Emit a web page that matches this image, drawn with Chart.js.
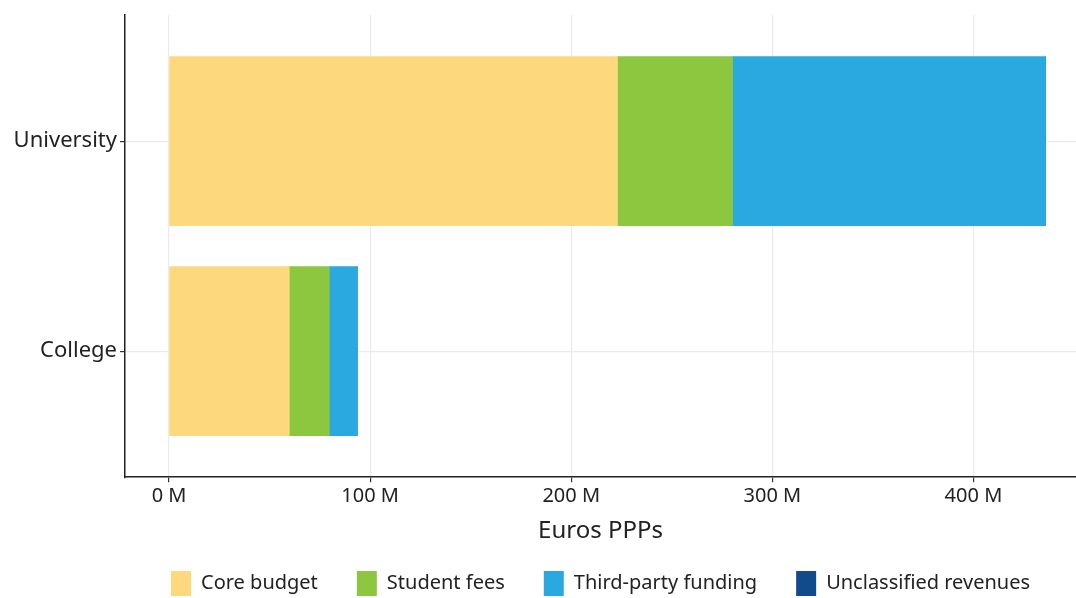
<!DOCTYPE html>
<html>
<head>
<meta charset="utf-8">
<script src="https://cdn.jsdelivr.net/npm/chart.js@4/dist/chart.umd.min.js"></script>
<style>
  html, body { margin: 0; padding: 0; background: #fff; }
  #wrap { width: 1076px; height: 598px; }
</style>
</head>
<body>
<div id="wrap"><canvas id="grafico"></canvas></div>
<script>
// categorias e séries (milhões de euros PPP)
const categorias = ['University', 'College'];
const coreBudget = [223, 59.8];
const studentFees = [57.2, 19.9];
const thirdParty = [155.6, 13.9];
const unclassified = [0, 0];
const xTicks = [0, 100, 200, 300, 400];

const series = [
  { label: 'Core budget', valores: coreBudget, cor: '#fdd87c' },
  { label: 'Student fees', valores: studentFees, cor: '#8dc63f' },
  { label: 'Third-party funding', valores: thirdParty, cor: '#29a9e0' },
  { label: 'Unclassified revenues', valores: unclassified, cor: '#114b8c' }
];

const fonte = "'Noto Sans', sans-serif";
const corTexto = '#222222';

const ctx = document.getElementById('grafico').getContext('2d');
const grafico = new Chart(ctx, {
  type: 'bar',
  data: {
    datasets: series.map(s => ({
      label: s.label,
      data: s.valores.map((v, i) => ({ x: v, y: i })),
      backgroundColor: s.cor,
      borderWidth: 0,
      barThickness: 169
    }))
  },
  options: {
    indexAxis: 'y',
    responsive: true,
    maintainAspectRatio: false,
    animation: false,
    layout: { padding: { top: 5, right: 0, left: 0, bottom: -8 } },
    scales: {
      x: {
        type: 'linear',
        stacked: true,
        min: -21.9,
        max: 451,
        afterBuildTicks: (scale) => {
          scale.ticks = xTicks.map(v => ({ value: v }));
        },
        ticks: {
          color: corTexto,
          font: { family: fonte, size: 20 },
          padding: 2,
          callback: (v) => v + ' M'
        },
        grid: { color: '#ebebeb', lineWidth: 1.2, tickColor: '#333', tickLength: 5 },
        border: { color: '#222', width: 1.5 },
        title: {
          display: true,
          text: 'Euros PPPs',
          color: corTexto,
          font: { family: fonte, size: 24 },
          padding: { top: 7, bottom: -14 }
        }
      },
      y: {
        type: 'linear',
        stacked: true,
        reverse: true,
        offset: false,
        min: -0.6,
        max: 1.6,
        afterBuildTicks: (scale) => {
          scale.ticks = categorias.map((c, i) => ({ value: i }));
        },
        afterFit: (scale) => { scale.width = 125; },
        ticks: {
          color: corTexto,
          font: { family: fonte, size: 22, lineHeight: 1.1 },
          padding: 3,
          callback: (v) => categorias[v] ?? ''
        },
        grid: { offset: false, color: '#ebebeb', lineWidth: 1.2, tickColor: '#333', tickLength: 5 },
        border: { color: '#222', width: 1.5 }
      }
    },
    plugins: {
      legend: {
        position: 'bottom',
        fullSize: false,
        labels: {
          color: corTexto,
          font: { family: fonte, size: 20 },
          boxWidth: 20,
          boxHeight: 25,
          padding: 39
        }
      },
      tooltip: { enabled: false }
    }
  }
});
</script>
</body>
</html>
